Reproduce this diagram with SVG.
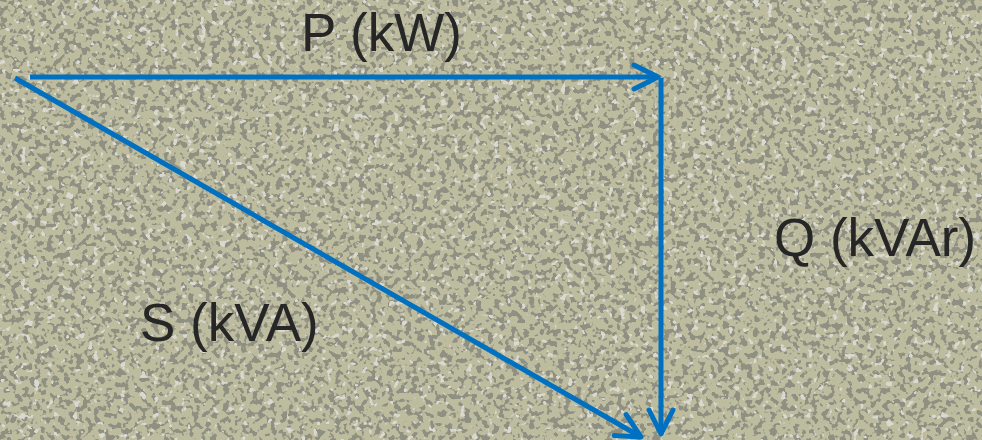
<svg xmlns="http://www.w3.org/2000/svg" width="982" height="440" viewBox="0 0 982 440">
  <defs>
    <style>
      .vec { fill: none; stroke: #0070C0; stroke-width: 5; stroke-linecap: butt; marker-end: url(#chev); }
      .lbl { font-family: "Liberation Sans", Arial, sans-serif; font-size: 53px; fill: #262626; }
    </style>
    <marker id="chev" markerUnits="userSpaceOnUse" viewBox="-30 -16 36 32" refX="0" refY="0" markerWidth="36" markerHeight="32" orient="auto" overflow="visible">
      <path d="M-24,-12 L0,0 L-24,12" fill="none" stroke="#0070C0" stroke-width="5" stroke-linecap="round" stroke-linejoin="round"/>
    </marker>
    <filter id="granite" x="0" y="0" width="100%" height="100%" color-interpolation-filters="sRGB">
      <feFlood flood-color="#BEBC9E" result="bg"/>
      <feTurbulence type="fractalNoise" baseFrequency="0.17" numOctaves="2" seed="7" result="n1"/>
      <feColorMatrix in="n1" type="matrix" values="0 0 0 0 0.56  0 0 0 0 0.56  0 0 0 0 0.51  14 0 0 0 -7.3" result="grey"/>
      <feTurbulence type="fractalNoise" baseFrequency="0.15" numOctaves="2" seed="19" result="n2"/>
      <feColorMatrix in="n2" type="matrix" values="0 0 0 0 0.85  0 0 0 0 0.85  0 0 0 0 0.82  14 0 0 0 -9.0" result="light"/>
      <feMerge>
        <feMergeNode in="bg"/>
        <feMergeNode in="grey"/>
        <feMergeNode in="light"/>
      </feMerge>
    </filter>
  </defs>

  <rect id="background" x="0" y="0" width="982" height="440" fill="#A9A893" filter="url(#granite)"/>

  <g id="connectors">
    <path id="p-vector" class="vec" d="M30,77 L658,77"/>
    <path id="q-vector" class="vec" d="M661,78 L661,434"/>
    <path id="s-vector" class="vec" d="M15,78 L641,437"/>
  </g>

  <g id="label-p">
    <text class="lbl" x="301" y="51">P (kW)</text>
  </g>
  <g id="label-q">
    <text class="lbl" x="774" y="256">Q (kVAr)</text>
  </g>
  <g id="label-s">
    <text class="lbl" x="140" y="341">S (kVA)</text>
  </g>
</svg>
